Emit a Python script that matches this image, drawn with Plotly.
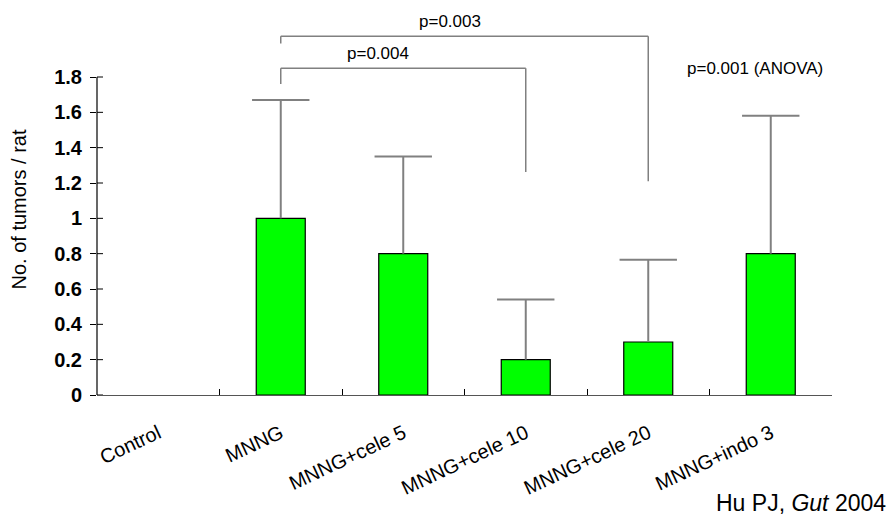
import plotly.graph_objects as go

categories = ["Control", "MNNG", "MNNG+cele 5", "MNNG+cele 10", "MNNG+cele 20", "MNNG+indo 3"]
means = [0, 1.0, 0.8, 0.2, 0.3, 0.8]
sd_upper = [0, 0.67, 0.55, 0.34, 0.465, 0.78]
y_ticks = [0, 0.2, 0.4, 0.6, 0.8, 1.0, 1.2, 1.4, 1.6, 1.8]
y_tick_text = ["0", "0.2", "0.4", "0.6", "0.8", "1", "1.2", "1.4", "1.6", "1.8"]
comparisons = [("MNNG", "MNNG+cele 10", "p=0.004"), ("MNNG", "MNNG+cele 20", "p=0.003")]

FONT = "Liberation Sans, Arial, sans-serif"
GREY = "#808080"

fig = go.Figure()
fig.add_trace(go.Bar(
    x=categories, y=means, width=0.4,
    marker=dict(color="#00FF00",
                line=dict(color="black", width=[0 if m == 0 else 1.2 for m in means])),
    showlegend=False, hoverinfo="x+y",
))

# upper error bars: stem from bar top to mean+sd, cap at the top
ex, ey, cx, cy = [], [], [], []
for c, m, s in zip(categories, means, sd_upper):
    if s > 0:
        ex += [c, c, None]
        ey += [m, m + s, None]
        cx.append(c)
        cy.append(m + s)
fig.add_trace(go.Scatter(x=ex, y=ey, mode="lines", line=dict(color=GREY, width=2),
                         showlegend=False, hoverinfo="skip"))
fig.add_trace(go.Scatter(x=cx, y=cy, mode="markers",
                         marker=dict(symbol="line-ew", size=41, line=dict(color=GREY, width=2)),
                         showlegend=False, hoverinfo="skip"))

shapes = []
# y axis line from 0 to top tick
shapes.append(dict(type="line", xref="x domain", yref="y", x0=0, x1=0, y0=0, y1=y_ticks[-1],
                   line=dict(color="black", width=1.2)))
# inner half of crossing ticks
for v in y_ticks:
    shapes.append(dict(type="line", xref="x", yref="y", xsizemode="pixel", xanchor=-0.5,
                       x0=0, x1=6, y0=v, y1=v, line=dict(color="black", width=1)))

# significance brackets
levels = [(1.85, 1.76, 1.262), (2.03, 1.99, 1.21)]
for (a, b, label), (top, ldrop, rdrop) in zip(comparisons, levels):
    ia, ib = categories.index(a), categories.index(b)
    shapes.append(dict(type="line", xref="x", yref="y", x0=ia, x1=ia, y0=ldrop, y1=top,
                       line=dict(color=GREY, width=1.5)))
    shapes.append(dict(type="line", xref="x", yref="y", x0=ia, x1=ib, y0=top, y1=top,
                       line=dict(color=GREY, width=1.5)))
    shapes.append(dict(type="line", xref="x", yref="y", x0=ib, x1=ib, y0=rdrop, y1=top,
                       line=dict(color=GREY, width=1.5)))

annotations = [
    dict(x=1.79, y=1.935, xref="x", yref="y", text="p=0.004", showarrow=False,
         font=dict(family=FONT, size=17, color="black")),
    dict(x=2.38, y=1.0054, xref="x", yref="paper", yanchor="middle", text="p=0.003", showarrow=False,
         font=dict(family=FONT, size=17, color="black")),
    dict(x=4.87, y=1.85, xref="x", yref="y", text="p=0.001 (ANOVA)", showarrow=False,
         font=dict(family=FONT, size=17, color="black")),
    dict(x=1.0762, y=-0.292, xref="paper", yref="paper", text="Hu PJ, <i>Gut</i> 2004",
         showarrow=False, xanchor="right", yanchor="middle",
         font=dict(family=FONT, size=23, color="black")),
]

fig.update_layout(
    width=892, height=516,
    margin=dict(l=97, r=60, t=24, b=121),
    plot_bgcolor="white", paper_bgcolor="white",
    shapes=shapes, annotations=annotations,
    xaxis=dict(
        type="category", range=[-0.5, 5.5], showline=True, linecolor="#555555", linewidth=1.2,
        ticks="inside", tickson="boundaries", ticklen=6, tickcolor="black", tickwidth=1,
        tickangle=-25, ticklabelstandoff=18,
        tickfont=dict(family=FONT, size=20, color="black"), showgrid=False,
    ),
    yaxis=dict(
        range=[0, 2.1], tickvals=y_ticks, ticktext=y_tick_text, showline=False,
        ticks="outside", ticklen=6, tickcolor="black", tickwidth=1, showgrid=False, zeroline=False,
        ticklabelstandoff=4,
        tickfont=dict(family=FONT, size=20, color="black", weight="bold"),
        title=dict(text="No. of tumors / rat", font=dict(family=FONT, size=20, color="black"), standoff=22),
    ),
)
fig.write_html("out.html")
